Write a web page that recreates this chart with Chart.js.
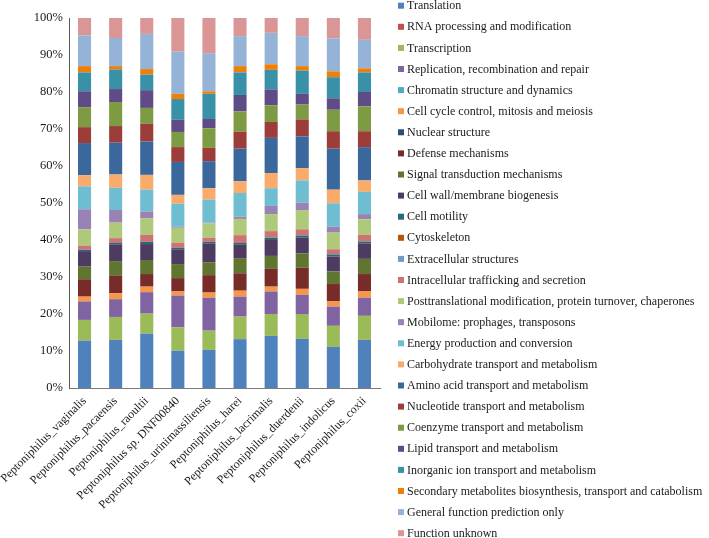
<!DOCTYPE html>
<html>
<head>
<meta charset="utf-8">
<script src="https://cdn.jsdelivr.net/npm/chart.js@4/dist/chart.umd.min.js"></script>
<style>
  html, body { margin: 0; padding: 0; background: #fff; }
  #wrap { width: 709px; height: 538px; position: relative; }
</style>
</head>
<body>
<div id="wrap"><canvas id="canvas-cog"></canvas></div>
<script>
var species = [
    'Peptoniphilus_vaginalis',
    'Peptoniphilus_pacaensis',
    'Peptoniphilus_raoultii',
    'Peptoniphilus sp. DNF00840',
    'Peptoniphilus_urinimassiliensis',
    'Peptoniphilus_harei',
    'Peptoniphilus_lacrimalis',
    'Peptoniphilus_duerdenii',
    'Peptoniphilus_indolicus',
    'Peptoniphilus_coxii'
];

var cogNames = [
    'Translation',
    'RNA processing and modification',
    'Transcription',
    'Replication, recombination and repair',
    'Chromatin structure and dynamics',
    'Cell cycle control, mitosis and meiosis',
    'Nuclear structure',
    'Defense mechanisms',
    'Signal transduction mechanisms',
    'Cell wall/membrane biogenesis',
    'Cell motility',
    'Cytoskeleton',
    'Extracellular structures',
    'Intracellular trafficking and secretion',
    'Posttranslational modification, protein turnover, chaperones',
    'Mobilome: prophages, transposons',
    'Energy production and conversion',
    'Carbohydrate transport and metabolism',
    'Amino acid transport and metabolism',
    'Nucleotide transport and metabolism',
    'Coenzyme transport and metabolism',
    'Lipid transport and metabolism',
    'Inorganic ion transport and metabolism',
    'Secondary metabolites biosynthesis, transport and catabolism',
    'General function prediction only',
    'Function unknown'
];

var cogColors = [
    '#4F81BD', '#C0504D', '#9BBB59', '#8064A2', '#4BACC6', '#F79646',
    '#2C4D75', '#772C2A', '#5F7530', '#4D3B62', '#276A7C', '#B65708',
    '#729ACA', '#CD7371', '#AFC97A', '#9983B5', '#6FBDD1', '#F9AB6B',
    '#3A679C', '#9C3D3A', '#7D9B42', '#5F4B85', '#3891A7', '#F07F09',
    '#95B3D7', '#D99694'
];

// percent of genes per COG category, same order as cogNames
var vaginalis         = [12.8, 0, 5.6, 5.0, 0, 1.3, 0, 4.7, 3.4, 4.2, 0.4, 0, 0, 1.1, 4.4, 5.4, 6.2, 3.0, 8.7, 4.3, 5.4, 4.3, 5.1, 1.7, 8.3, 4.7];
var pacaensis         = [13.0, 0, 6.2, 4.8, 0, 1.6, 0, 4.7, 4.0, 4.4, 0.5, 0, 0, 1.3, 4.2, 3.4, 6.0, 3.6, 8.6, 4.5, 6.5, 3.5, 5.3, 0.9, 7.6, 5.4];
var raoultii          = [14.7, 0, 5.4, 5.8, 0, 1.5, 0, 3.4, 3.8, 4.3, 0.6, 0, 0, 1.9, 4.5, 1.8, 5.9, 4.0, 9.0, 4.8, 4.3, 4.8, 4.2, 1.5, 9.5, 4.3];
var spDNF00840        = [10.1, 0, 6.3, 8.6, 0, 1.1, 0, 3.6, 3.8, 4.0, 0.4, 0, 0, 1.4, 4.0, 0.3, 6.2, 2.4, 8.9, 4.0, 4.1, 3.3, 5.6, 1.4, 11.4, 9.1];
var urinimassiliensis = [10.3, 0, 5.2, 8.9, 0, 1.4, 0, 4.7, 3.5, 5.1, 0.4, 0, 0, 1.1, 3.9, 0.2, 6.2, 3.1, 7.3, 3.6, 5.3, 2.5, 6.8, 0.7, 10.3, 9.5];
var harei             = [13.2, 0, 6.1, 5.4, 0, 1.6, 0, 4.7, 4.1, 3.6, 0.5, 0, 0, 2.1, 4.4, 0.6, 6.4, 3.2, 8.8, 4.6, 5.5, 4.4, 6.1, 1.7, 8.1, 4.9];
var lacrimalis        = [14.1, 0, 5.9, 6.1, 0, 1.3, 0, 4.8, 3.5, 4.3, 0.6, 0, 0, 1.8, 4.6, 2.2, 4.8, 4.1, 9.5, 4.3, 4.5, 4.3, 5.3, 1.5, 8.5, 4.0];
var duerdenii         = [13.3, 0, 6.7, 5.2, 0, 1.6, 0, 5.7, 3.9, 4.2, 0.6, 0, 0, 1.7, 5.2, 2.0, 6.0, 3.3, 8.6, 4.6, 4.0, 2.9, 6.3, 1.2, 8.1, 4.9];
var indolicus         = [11.1, 0, 5.7, 5.2, 0, 1.4, 0, 4.7, 3.4, 4.0, 0.6, 0, 0, 1.4, 4.5, 1.6, 6.3, 3.7, 11.1, 4.7, 5.8, 3.1, 5.7, 1.6, 8.9, 5.5];
var coxii             = [13.0, 0, 6.5, 4.9, 0, 1.7, 0, 4.7, 4.1, 4.2, 0.5, 0, 0, 1.8, 4.2, 1.4, 6.0, 3.1, 9.0, 4.3, 6.7, 3.9, 5.3, 1.1, 7.7, 5.9];

var yTicks = [0, 10, 20, 30, 40, 50, 60, 70, 80, 90, 100];

var perSpecies = [vaginalis, pacaensis, raoultii, spDNF00840, urinimassiliensis,
                  harei, lacrimalis, duerdenii, indolicus, coxii];

var datasets = cogNames.map(function (name, i) {
    return {
        label: name,
        data: perSpecies.map(function (row) { return row[i]; }),
        backgroundColor: cogColors[i],
        borderWidth: 0
    };
});

var serif = '"Liberation Serif", "Times New Roman", serif';

// legend drawn as a single column, as in the original figure
var sideLegend = {
    id: 'sideLegend',
    afterDraw: function (chart) {
        var c = chart.ctx;
        c.save();
        c.font = '12px ' + serif;
        c.textBaseline = 'middle';
        c.textAlign = 'left';
        chart.data.datasets.forEach(function (ds, i) {
            var y = 5.7 + i * 21.1;
            c.fillStyle = ds.backgroundColor;
            c.fillRect(398, y - 3, 6, 6);
            c.fillStyle = '#1a1a1a';
            c.fillText(ds.label, 407, y + 0.5);
        });
        c.restore();
    }
};

var options = {
    responsive: true,
    maintainAspectRatio: false,
    animation: false,
    layout: {
        padding: { top: 18, right: 329, left: 0, bottom: 0 }
    },
    plugins: {
        legend: { display: false },
        tooltip: { enabled: false }
    },
    scales: {
        x: {
            stacked: true,
            grid: { display: false, drawTicks: false },
            border: { display: true, color: '#7a7a7a', width: 1 },
            ticks: {
                autoSkip: false,
                minRotation: 45,
                maxRotation: 45,
                padding: 6,
                labelOffset: 0,
                color: '#1a1a1a',
                font: { family: serif, size: 12 }
            },
            afterFit: function (scale) {
                scale.height = 150;
                scale.paddingLeft = 0;
                scale.paddingRight = 0;
            }
        },
        y: {
            stacked: true,
            min: 0,
            max: 100,
            afterBuildTicks: function (scale) {
                scale.ticks = yTicks.map(function (v) { return { value: v }; });
            },
            grid: { display: false, drawTicks: false },
            border: { display: true, color: '#5a5a5a', width: 1 },
            ticks: {
                padding: 6,
                color: '#1a1a1a',
                font: { family: serif, size: 12.5 },
                callback: function (v) { return v + '%'; }
            },
            afterFit: function (scale) { scale.width = 69; }
        }
    },
    datasets: {
        bar: {
            categoryPercentage: 1.0,
            barPercentage: 0.42
        }
    }
};

var ctx = document.getElementById('canvas-cog');
var chart = new Chart(ctx, {
    type: 'bar',
    data: { labels: species, datasets: datasets },
    options: options,
    plugins: [sideLegend]
});
</script>
</body>
</html>
